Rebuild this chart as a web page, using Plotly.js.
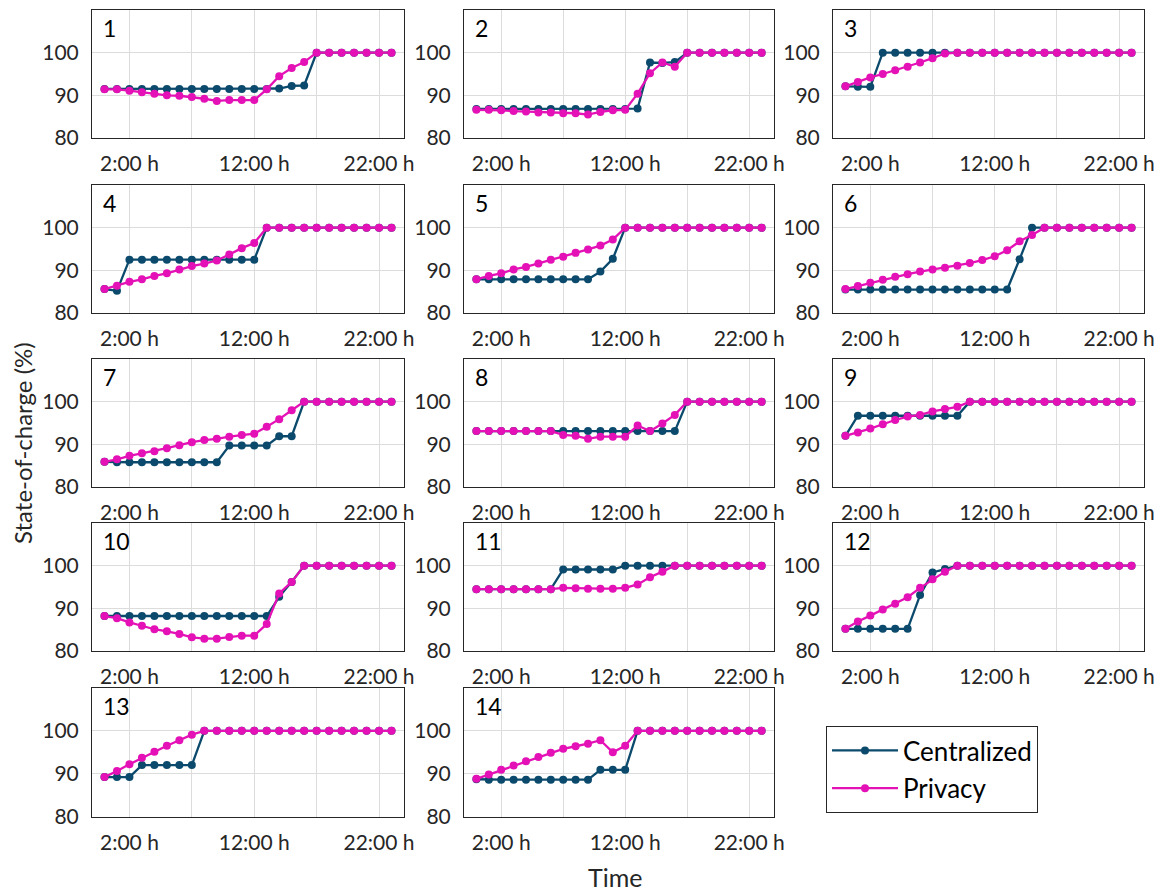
<!DOCTYPE html>
<html>
<head>
<meta charset="utf-8">
<script src="https://cdn.plot.ly/plotly-3.0.1.min.js"></script>
<style>html,body{margin:0;padding:0;background:#fff;}#chart{width:1167px;height:892px;}</style>
</head>
<body>
<div id="chart"></div>
<script>
// ---- data ----
const hours = [0,1,2,3,4,5,6,7,8,9,10,11,12,13,14,15,16,17,18,19,20,21,22,23];
const xTickVals = [2,7,12,17,22];
const xTickText = ['2:00 h','','12:00 h','','22:00 h'];
const yTickVals = [80,90,100];
const panelLabels = ['1','2','3','4','5','6','7','8','9','10','11','12','13','14'];
const seriesNames = ['Centralized','Privacy'];

const cent1 = [91.5,91.5,91.5,91.5,91.5,91.5,91.5,91.5,91.5,91.5,91.5,91.5,91.5,91.5,91.6,92.2,92.3,100,100,100,100,100,100,100];
const priv1 = [91.4,91.4,91.1,90.7,90.4,90.0,89.9,89.6,89.2,88.7,88.9,88.9,88.9,91.4,94.5,96.4,97.8,100,100,100,100,100,100,100];
const cent2 = [86.8,86.8,86.8,86.8,86.8,86.8,86.8,86.8,86.8,86.8,86.8,86.8,86.8,86.9,97.7,97.6,97.8,100,100,100,100,100,100,100];
const priv2 = [86.6,86.6,86.5,86.3,86.2,86.0,86.0,85.8,85.8,85.5,86.1,86.5,86.6,90.4,95.2,97.7,96.7,100,100,100,100,100,100,100];
const cent3 = [92.1,92.0,92.0,100,100,100,100,100,100,100,100,100,100,100,100,100,100,100,100,100,100,100,100,100];
const priv3 = [92.1,93.1,94.2,95.0,95.9,96.7,97.7,98.7,99.8,100,100,100,100,100,100,100,100,100,100,100,100,100,100,100];
const cent4 = [85.6,85.2,92.5,92.5,92.5,92.5,92.5,92.5,92.5,92.5,92.5,92.5,92.5,100,100,100,100,100,100,100,100,100,100,100];
const priv4 = [85.6,86.4,87.3,87.9,88.7,89.3,90.2,91.0,91.6,92.3,93.7,95.2,96.4,100,100,100,100,100,100,100,100,100,100,100];
const cent5 = [87.9,87.9,87.9,87.9,87.9,87.9,87.9,87.9,87.9,87.9,89.7,92.7,100,100,100,100,100,100,100,100,100,100,100,100];
const priv5 = [87.9,88.7,89.3,90.2,90.8,91.6,92.5,93.2,94.1,94.9,95.8,97.2,100,100,100,100,100,100,100,100,100,100,100,100];
const cent6 = [85.5,85.5,85.5,85.5,85.5,85.5,85.5,85.5,85.5,85.5,85.5,85.5,85.5,85.5,92.6,100,100,100,100,100,100,100,100,100];
const priv6 = [85.6,86.3,87.1,87.8,88.5,89.1,89.7,90.2,90.6,91.1,91.7,92.4,93.3,94.7,96.8,98.3,100,100,100,100,100,100,100,100];
const cent7 = [85.9,85.8,85.8,85.8,85.8,85.8,85.8,85.8,85.8,85.8,89.7,89.7,89.7,89.7,91.9,91.9,100,100,100,100,100,100,100,100];
const priv7 = [85.9,86.5,87.3,87.9,88.4,89.1,89.8,90.5,91.0,91.3,91.8,92.2,92.5,94.1,95.9,98.0,100,100,100,100,100,100,100,100];
const cent8 = [93.1,93.1,93.1,93.1,93.1,93.1,93.1,93.1,93.1,93.1,93.1,93.1,93.1,93.1,93.1,93.1,93.1,100,100,100,100,100,100,100];
const priv8 = [93.1,93.1,93.1,93.1,93.1,93.1,93.1,92.2,92.0,91.3,91.8,91.8,91.8,94.4,93.1,94.9,96.9,100,100,100,100,100,100,100];
const cent9 = [92.0,96.7,96.7,96.7,96.7,96.7,96.7,96.7,96.7,96.7,100,100,100,100,100,100,100,100,100,100,100,100,100,100];
const priv9 = [92.0,92.8,93.7,94.7,95.7,96.5,96.9,97.7,98.3,98.8,100,100,100,100,100,100,100,100,100,100,100,100,100,100];
const cent10 = [88.2,88.2,88.2,88.2,88.2,88.2,88.2,88.2,88.2,88.2,88.2,88.2,88.2,88.2,92.7,96.2,100,100,100,100,100,100,100,100];
const priv10 = [88.2,87.7,86.7,85.9,85.1,84.6,84.0,83.2,82.9,82.9,83.3,83.6,83.6,86.3,93.5,96.2,100,100,100,100,100,100,100,100];
const cent11 = [94.5,94.5,94.5,94.5,94.5,94.5,94.5,99.1,99.1,99.1,99.1,99.1,100,100,100,100,100,100,100,100,100,100,100,100];
const priv11 = [94.5,94.5,94.5,94.5,94.5,94.5,94.5,94.8,94.7,94.6,94.6,94.6,94.8,95.6,97.3,98.6,100,100,100,100,100,100,100,100];
const cent12 = [85.2,85.2,85.2,85.2,85.2,85.2,93.1,98.4,99.2,100,100,100,100,100,100,100,100,100,100,100,100,100,100,100];
const priv12 = [85.2,86.9,88.3,89.7,91.1,92.6,94.8,96.8,98.6,100,100,100,100,100,100,100,100,100,100,100,100,100,100,100];
const cent13 = [89.2,89.2,89.2,92.0,92.0,92.0,92.0,92.0,100,100,100,100,100,100,100,100,100,100,100,100,100,100,100,100];
const priv13 = [89.2,90.6,92.2,93.7,95.1,96.5,97.8,99.1,100,100,100,100,100,100,100,100,100,100,100,100,100,100,100,100];
const cent14 = [88.7,88.6,88.6,88.6,88.6,88.6,88.6,88.6,88.6,88.6,90.9,90.9,90.9,100,100,100,100,100,100,100,100,100,100,100];
const priv14 = [88.8,89.8,90.9,91.9,92.9,93.9,94.9,95.8,96.4,97.0,97.8,95.0,96.5,100,100,100,100,100,100,100,100,100,100,100];

const centralized = [cent1,cent2,cent3,cent4,cent5,cent6,cent7,cent8,cent9,cent10,cent11,cent12,cent13,cent14];
const privacy = [priv1,priv2,priv3,priv4,priv5,priv6,priv7,priv8,priv9,priv10,priv11,priv12,priv13,priv14];

// ---- layout geometry (pixels) ----
const W = 1167, H = 892;
const cols = [[92,404],[464,774],[833,1144]];
const rows = [[10,138],[185,313],[359,487],[523,651],[688,816.5]];
const FONT = 'Lato, "Open Sans", sans-serif';
const TXT = '#262626';
const C_CENT = '#0b4a6c';
const C_PRIV = '#e412b6';

const traces = [];
const layout = {
  width: W, height: H,
  margin: {l:0, r:0, t:0, b:0},
  paper_bgcolor: '#ffffff', plot_bgcolor: '#ffffff',
  font: {family: FONT, size: 21, color: TXT},
  showlegend: true,
  legend: {
    x: 826/W, y: 1 - 726/H, xanchor: 'left', yanchor: 'top',
    bordercolor: TXT, borderwidth: 1, bgcolor: '#ffffff',
    font: {family: FONT, size: 26, color: '#000000'},
    traceorder: 'grouped', tracegroupgap: 1, itemwidth: 66
  },
  annotations: [],
  hovermode: false
};

for (let i = 0; i < 14; i++) {
  const r = Math.floor(i / 3), c = i % 3;
  const sfx = i === 0 ? '' : String(i + 1);
  const xa = 'xaxis' + sfx, ya = 'yaxis' + sfx;
  const xr = 'x' + sfx, yr = 'y' + sfx;
  const [x0, x1] = cols[c];
  const [t0, t1] = rows[r];
  layout[xa] = {
    domain: [x0 / W, x1 / W], anchor: yr, range: [-1, 24],
    tickvals: xTickVals, ticktext: xTickText, ticks: '',
    showgrid: true, gridcolor: '#dcdcdc', gridwidth: 1,
    showline: true, linecolor: TXT, linewidth: 1, mirror: true,
    zeroline: false, tickfont: {family: FONT, size: 21, color: TXT},
    ticklabelstandoff: 7, fixedrange: true
  };
  layout[ya] = {
    domain: [1 - t1 / H, 1 - t0 / H], anchor: xr, range: [80, 110],
    tickvals: yTickVals, ticks: '',
    showgrid: true, gridcolor: '#dcdcdc', gridwidth: 1,
    showline: true, linecolor: TXT, linewidth: 1, mirror: true,
    zeroline: false, tickfont: {family: FONT, size: 21, color: TXT},
    ticklabelstandoff: 8, fixedrange: true
  };
  traces.push({
    type: 'scatter', mode: 'lines+markers', x: hours, y: centralized[i],
    xaxis: xr, yaxis: yr, name: seriesNames[0], legendgroup: 'c', showlegend: i === 0,
    line: {color: C_CENT, width: 2.3}, marker: {color: C_CENT, size: 8}
  });
  traces.push({
    type: 'scatter', mode: 'lines+markers', x: hours, y: privacy[i],
    xaxis: xr, yaxis: yr, name: seriesNames[1], legendgroup: 'p', showlegend: i === 0,
    line: {color: C_PRIV, width: 2.3}, marker: {color: C_PRIV, size: 8}
  });
  layout.annotations.push({
    text: panelLabels[i], xref: 'paper', yref: 'paper',
    x: (x0 + 9) / W, y: 1 - (t0 + 2) / H, xanchor: 'left', yanchor: 'top',
    showarrow: false, font: {family: FONT, size: 23, color: '#000000'}
  });
}

layout.annotations.push({
  text: 'State-of-charge (%)', xref: 'paper', yref: 'paper',
  x: 22 / W, y: 1 - 443 / H, xanchor: 'center', yanchor: 'middle', textangle: -90,
  showarrow: false, font: {family: FONT, size: 24, color: TXT}
});
layout.annotations.push({
  text: 'Time', xref: 'paper', yref: 'paper',
  x: 615 / W, y: 1 - 877 / H, xanchor: 'center', yanchor: 'middle',
  showarrow: false, font: {family: FONT, size: 25, color: TXT}
});

Plotly.newPlot('chart', traces, layout, {staticPlot: true, displayModeBar: false});
</script>
</body>
</html>
